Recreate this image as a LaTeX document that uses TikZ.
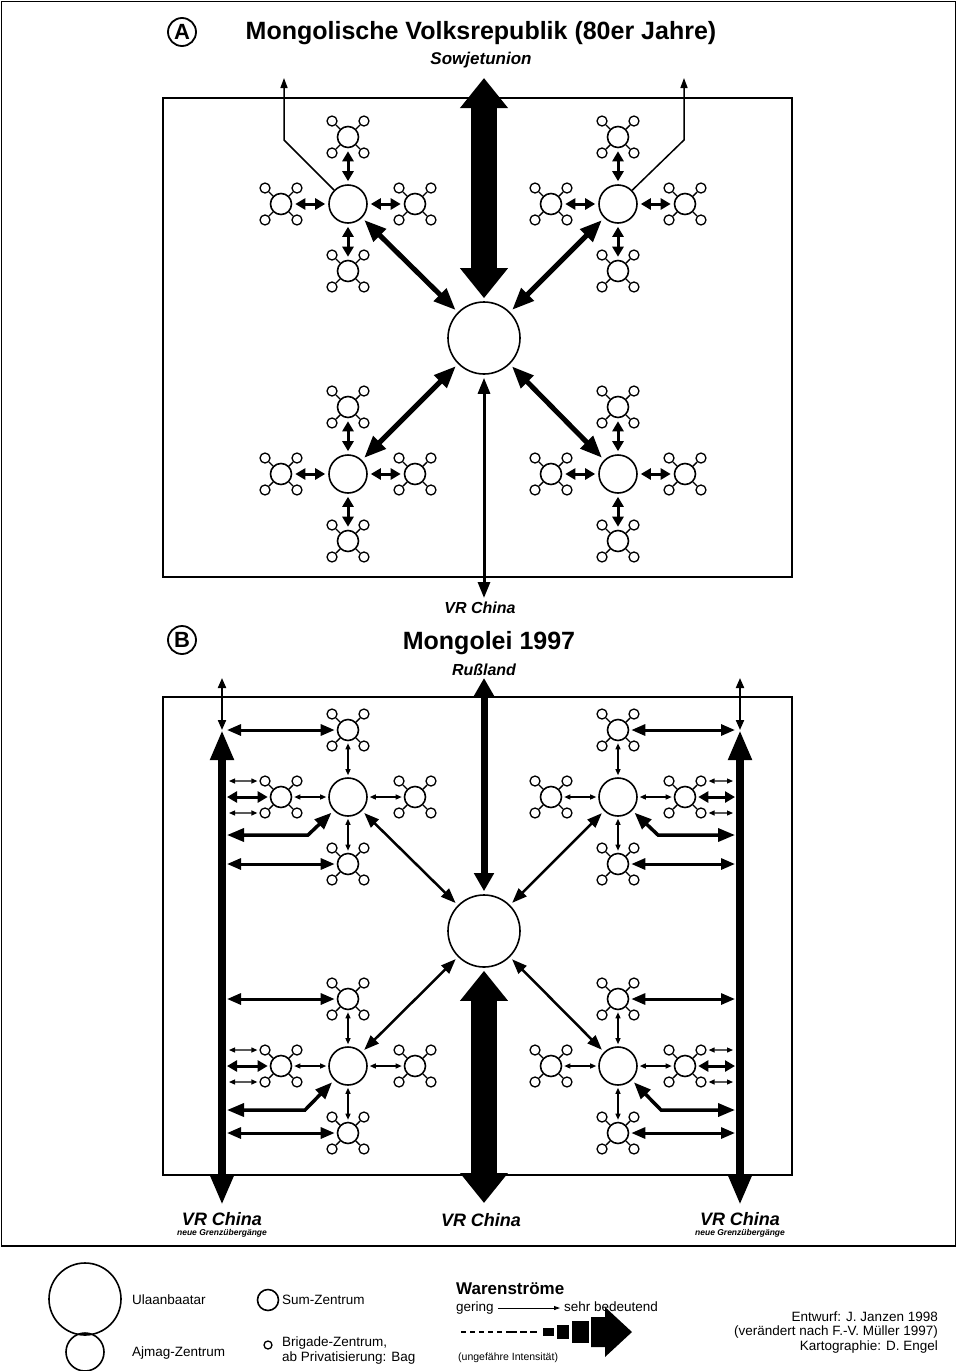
\documentclass[tikz,border=0pt]{standalone}
\usepackage{xcolor}
\usepackage{fontspec}
\setmainfont{Liberation Sans}
\usetikzlibrary{arrows.meta}

% one Sum-Zentrum with its four Brigade-Zentren
\newcommand{\sumcluster}[2]{%
  \node[sumz] (#1) at (#2) {};
  \foreach \a in {45,135,225,315} {
    \path (#1) ++(\a:22.6pt) node[bag] (#1-\a) {};
    \draw[line width=1.4pt] (#1) -- (#1-\a);
  }%
}

\tikzset{
  ubcirc/.style={circle, draw, line width=1.6pt, minimum size=72pt, inner sep=0pt},
  ajmag/.style={circle, draw, line width=1.6pt, minimum size=38pt, inner sep=0pt},
  sumz/.style={circle, draw, line width=1.6pt, minimum size=21pt, inner sep=0pt},
  bag/.style={circle, draw, line width=1.3pt, minimum size=10pt, inner sep=0pt},
  panel/.style={draw, line width=1.5pt},
  letter/.style={circle, draw, line width=1.8pt, minimum size=28pt, inner sep=0pt,
    font=\bfseries\fontsize{22}{22}\selectfont},
  title/.style={font=\bfseries\fontsize{25}{28}\selectfont},
  land/.style={font=\bfseries\itshape\fontsize{16}{18}\selectfont},
  bigland/.style={font=\bfseries\itshape\fontsize{18}{20}\selectfont},
  subland/.style={font=\bfseries\itshape\fontsize{8.5}{9}\selectfont},
  legtxt/.style={font=\fontsize{13.5}{15}\selectfont, inner sep=0pt},
  % flows, panel A
  hugeflow/.style={line width=26pt, >={Triangle[length=30pt,width=46pt]}, <->},
  linkA/.style={line width=3pt, >={Triangle[length=10pt,width=11pt]}, <->,
    shorten <=3pt, shorten >=3pt},
  diagA/.style={line width=5pt, >={Triangle[length=22pt,width=17pt]}, <->,
    shorten <=3pt, shorten >=3pt},
  chinaA/.style={line width=3pt, >={Triangle[length=16pt,width=12pt]}, <->, shorten <=3pt},
  exportA/.style={line width=1.5pt, -{Triangle[length=10pt,width=7pt]}},
  % flows, panel B
  linkB/.style={line width=1.2pt, >={Triangle[length=6pt,width=5pt]}, <->,
    shorten <=2pt, shorten >=2pt},
  diagB/.style={line width=2.5pt, >={Triangle[length=15pt,width=11pt]}, <->,
    shorten <=3pt, shorten >=3pt},
  russB/.style={line width=7pt, >={Triangle[length=18pt,width=19pt]}, <->, shorten <=3pt},
  borderB/.style={line width=3pt, >={Triangle[length=14pt,width=11pt]}, <->, shorten >=2pt},
  midB/.style={line width=3pt, >={Triangle[length=10pt,width=11pt]}, <->, shorten >=2pt},
  bentB/.style={line width=3.5pt, >={Triangle[length=17pt,width=13pt]}, <->, shorten >=3pt},
  sideB/.style={line width=8pt, >={Triangle[length=30pt,width=22pt]}, <->},
  sidetopB/.style={line width=2pt, >={Triangle[length=10pt,width=8pt]}, <->},
}

\begin{document}
\begin{tikzpicture}[x=1pt, y=-1pt]
    \useasboundingbox (0,0) rectangle (957,1371);

    % Frame
    \draw[line width=1.5pt] (1.5,1.5) rectangle (955.5,1246);

    % ---------------- A: Mongolische Volksrepublik
    \node[letter] (letA) at (182,32) {A};
    \node[title] (titleA) at (481,33) {Mongolische Volksrepublik (80er Jahre)};
    \node[land, font=\bfseries\itshape\fontsize{17}{19}\selectfont] (sowj) at (481,60) {Sowjetunion};
    \draw[panel] (163,98) rectangle (792,577);

    \node[ubcirc] (ubA) at (484,338) {};
    \foreach \n/\x/\y in {ajA1/348/204, ajA2/618/204, ajA3/348/474, ajA4/618/474} {
        \node[ajmag] (\n) at (\x,\y) {};
        \sumcluster{\n-t}{\x,\y-67}
        \sumcluster{\n-l}{\x-67,\y}
        \sumcluster{\n-r}{\x+67,\y}
        \sumcluster{\n-b}{\x,\y+67}
        \draw[linkA] (\n) -- (\n-t);
        \draw[linkA] (\n) -- (\n-l);
        \draw[linkA] (\n) -- (\n-r);
        \draw[linkA] (\n) -- (\n-b);
        \draw[diagA] (\n) -- (ubA);
    }

    % to Sowjetunion
    \coordinate (northA) at (484,78);
    \draw[hugeflow, shorten <=3pt] (ubA) -- (northA);
    \coordinate (bendA1) at (284,140);
    \coordinate (outA1) at (284,78);
    \draw[exportA] (ajA1) -- (bendA1) -- (outA1);
    \coordinate (bendA2) at (684,140);
    \coordinate (outA2) at (684,78);
    \draw[exportA] (ajA2) -- (bendA2) -- (outA2);

    % to China
    \coordinate (southA) at (484,598);
    \draw[chinaA] (ubA) -- (southA);
    \node[land] (chinaA) at (480,608) {VR China};

    % ---------------- B: Mongolei 1997
    \node[letter] (letB) at (182,640) {B};
    \node[title] (titleB) at (489,643) {Mongolei 1997};
    \node[land] (russ) at (484,670) {Rußland};
    \draw[panel] (163,697) rectangle (792,1175);

    \node[ubcirc] (ubB) at (484,931) {};
    \foreach \n/\x/\y in {ajB1/348/797, ajB2/618/797, ajB3/348/1066, ajB4/618/1066} {
        \node[ajmag] (\n) at (\x,\y) {};
        \sumcluster{\n-t}{\x,\y-67}
        \sumcluster{\n-l}{\x-67,\y}
        \sumcluster{\n-r}{\x+67,\y}
        \sumcluster{\n-b}{\x,\y+67}
        \draw[linkB] (\n) -- (\n-t);
        \draw[linkB] (\n) -- (\n-l);
        \draw[linkB] (\n) -- (\n-r);
        \draw[linkB] (\n) -- (\n-b);
        \draw[diagB] (\n) -- (ubB);
    }

    % to Russland and China
    \coordinate (northB) at (484,678);
    \draw[russB] (ubB) -- (northB);
    \coordinate (southB) at (484,1203);
    \draw[hugeflow, shorten <=3pt] (ubB) -- (southB);
    \node[bigland] (chinaB) at (481,1220) {VR China};

    % new border crossings
    \coordinate (lineLtop) at (222,730);
    \coordinate (lineLbot) at (222,1205);
    \coordinate (lineLnorth) at (222,678);
    \draw[sideB] (lineLbot) -- (lineLtop);
    \draw[sidetopB] (lineLnorth) -- (lineLtop);
    \node[bigland] (chinaL) at (222,1219) {VR China};
    \node[subland] (grenzL) at (222,1233) {neue Grenzübergänge};

    \coordinate (lineRtop) at (740,730);
    \coordinate (lineRbot) at (740,1205);
    \coordinate (lineRnorth) at (740,678);
    \draw[sideB] (lineRbot) -- (lineRtop);
    \draw[sidetopB] (lineRnorth) -- (lineRtop);
    \node[bigland] (chinaR) at (740,1219) {VR China};
    \node[subland] (grenzR) at (740,1233) {neue Grenzübergänge};

    \foreach \y [count=\i] in {730,781,797,813,835,864,999,1050,1066,1082,1110,1133} {
        \coordinate (bL\i) at (227,\y);
        \coordinate (bR\i) at (735,\y);
    }
    \coordinate (kinkL1) at (308,835);
    \coordinate (kinkL2) at (305,1110);
    \coordinate (kinkR1) at (658,835);
    \coordinate (kinkR2) at (661,1110);

    % left side
    \draw[borderB] (bL1) -- (ajB1-t);
    \draw[linkB] (bL2) -- (ajB1-l-135);
    \draw[midB] (bL3) -- (ajB1-l);
    \draw[linkB] (bL4) -- (ajB1-l-225);
    \draw[bentB] (bL5) -- (kinkL1) -- (ajB1);
    \draw[borderB] (bL6) -- (ajB1-b);
    \draw[borderB] (bL7) -- (ajB3-t);
    \draw[linkB] (bL8) -- (ajB3-l-135);
    \draw[midB] (bL9) -- (ajB3-l);
    \draw[linkB] (bL10) -- (ajB3-l-225);
    \draw[bentB] (bL11) -- (kinkL2) -- (ajB3);
    \draw[borderB] (bL12) -- (ajB3-b);

    % right side
    \draw[borderB] (bR1) -- (ajB2-t);
    \draw[linkB] (bR2) -- (ajB2-r-45);
    \draw[midB] (bR3) -- (ajB2-r);
    \draw[linkB] (bR4) -- (ajB2-r-315);
    \draw[bentB] (bR5) -- (kinkR1) -- (ajB2);
    \draw[borderB] (bR6) -- (ajB2-b);
    \draw[borderB] (bR7) -- (ajB4-t);
    \draw[linkB] (bR8) -- (ajB4-r-45);
    \draw[midB] (bR9) -- (ajB4-r);
    \draw[linkB] (bR10) -- (ajB4-r-315);
    \draw[bentB] (bR11) -- (kinkR2) -- (ajB4);
    \draw[borderB] (bR12) -- (ajB4-b);

    % ---------------- Legend
    \node[ubcirc] (legUB) at (85,1299) {};
    \node[legtxt, anchor=west] (legUBt) at (132,1300) {Ulaanbaatar};
    \node[ajmag] (legAj) at (85,1352) {};
    \node[legtxt, anchor=west] (legAjt) at (132,1353) {Ajmag-Zentrum};
    \node[sumz] (legSum) at (268,1300) {};
    \node[legtxt, anchor=west] (legSumt) at (282,1300) {Sum-Zentrum};
    \node[bag, minimum size=8pt] (legBag) at (268,1345) {};
    \node[legtxt, anchor=north west, align=left] (legBagt) at (282,1337)
        {Brigade-Zentrum,\\ab Privatisierung: Bag};

    \node[legtxt, anchor=west, font=\bfseries\fontsize{17}{19}\selectfont] (waren) at (456,1289) {Warenströme};
    \node[legtxt, anchor=west, text height=10pt, text depth=3pt] (gering) at (456,1308) {gering};
    \node[legtxt, anchor=west, text height=10pt, text depth=3pt] (sehr) at (564,1308) {sehr bedeutend};
    \draw[line width=0.8pt, -{Triangle[length=6pt,width=4pt]}, shorten <=4pt, shorten >=4pt]
        (gering) -- (sehr);
    % intensity scale
    \draw[line width=1.2pt, dash pattern=on 5pt off 4pt] (461,1332) -- (510,1332);
    \draw[line width=2.5pt, dash pattern=on 7pt off 3pt] (510,1332) -- (540,1332);
    \fill (543,1328) rectangle (554,1336);
    \fill (557,1325) rectangle (569,1339);
    \fill (572,1321) rectangle (589,1343);
    \fill (591,1317) -- (605,1317) -- (605,1307) -- (632,1332) -- (605,1357)
        -- (605,1347) -- (591,1347) -- cycle;
    \node[legtxt, anchor=west, font=\fontsize{10.5}{12}\selectfont] (intens) at (458,1358) {(ungefähre Intensität)};

    \node[legtxt, anchor=east, align=right, font=\fontsize{13.5}{14.5}\selectfont] (credit) at (938,1332)
        {Entwurf: J. Janzen 1998\\(verändert nach F.-V. Müller 1997)\\Kartographie: D. Engel};
\end{tikzpicture}
\end{document}
